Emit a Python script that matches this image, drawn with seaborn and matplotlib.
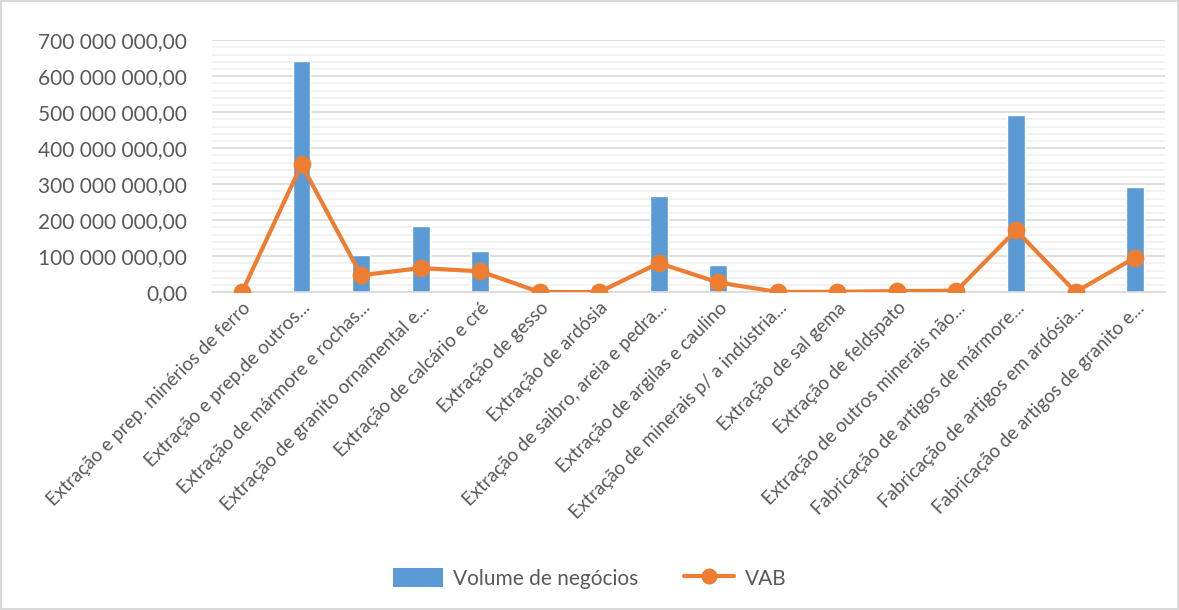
import matplotlib
matplotlib.use("Agg")
import matplotlib.pyplot as plt
import matplotlib.ticker as mticker
from matplotlib.patches import Patch
from matplotlib.lines import Line2D
import seaborn as sns
import pandas as pd

# categories (as truncated in the original chart)
categorias = [
    "Extração e prep. minérios de ferro",
    "Extração e prep.de outros...",
    "Extração de mármore e rochas...",
    "Extração de granito ornamental e...",
    "Extração de calcário e cré",
    "Extração de gesso",
    "Extração de ardósia",
    "Extração de saibro, areia e pedra...",
    "Extração de argilas e caulino",
    "Extração de minerais p/ a indústria...",
    "Extração de sal gema",
    "Extração de feldspato",
    "Extração de outros minerais não...",
    "Fabricação de artigos de mármore...",
    "Fabricação de artigos em ardósia...",
    "Fabricação de artigos de granito e...",
]
volume_negocios = [0, 642e6, 103e6, 183e6, 114e6, 0, 0, 266e6, 76e6, 0, 0, 0, 0, 492e6, 0, 293e6]
vab = [0, 355e6, 47e6, 67e6, 58e6, 0.3e6, 0.2e6, 81e6, 27e6, 0.5e6, 1e6, 3e6, 4e6, 172e6, 0.5e6, 96e6]

df = pd.DataFrame({"Setor": categorias, "Volume": volume_negocios, "VAB": vab})

sns.set_style("white")
plt.rcParams["font.family"] = ["Lato", "DejaVu Sans"]

azul = "#5B9BD5"
laranja = "#ED7D31"
cinza = "#595959"

fig = plt.figure(figsize=(11.79, 6.10), dpi=100)
fig.patch.set_edgecolor("#D9D9D9")
fig.patch.set_linewidth(1.5)
ax = fig.add_axes([0.18, 0.521, 0.808, 0.413])

sns.barplot(data=df, x="Setor", y="Volume", color=azul, width=0.30,
            saturation=1, ax=ax, zorder=2)
sns.pointplot(data=df, x="Setor", y="VAB", color=laranja, marker="o",
              markersize=10.5, linewidth=3, ax=ax, zorder=3)

ax.set_ylim(0, 700e6)
ax.set_xlim(-0.5, len(categorias) - 0.5)
ax.yaxis.set_major_locator(mticker.MultipleLocator(100e6))
ax.yaxis.set_minor_locator(mticker.MultipleLocator(20e6))
ax.yaxis.set_major_formatter(mticker.FuncFormatter(
    lambda v, p: f"{v:,.2f}".replace(",", " ").replace(".", ",")))
ax.grid(axis="y", which="major", color="#D9D9D9", linewidth=1.2, zorder=0)
ax.grid(axis="y", which="minor", color="#F0F0F0", linewidth=1.2, zorder=0)
ax.set_axisbelow(True)

for s in ["top", "right", "left"]:
    ax.spines[s].set_visible(False)
ax.spines["bottom"].set_color("#D9D9D9")
ax.spines["bottom"].set_linewidth(1.2)

ax.set_xlabel("")
ax.set_ylabel("")
ax.tick_params(axis="y", which="both", length=0, labelsize=15, labelcolor=cinza, pad=18)
ax.tick_params(axis="x", length=0, labelsize=13.5, labelcolor=cinza, pad=5)
plt.setp(ax.get_xticklabels(), rotation=45, ha="right", rotation_mode="anchor")

handles = [
    Patch(facecolor=azul, edgecolor="none", label="Volume de negócios"),
    Line2D([0], [0], color=laranja, lw=3, marker="o", markersize=10.5, label="VAB"),
]
fig.legend(handles=handles, loc="center", bbox_to_anchor=(0.5, 0.052), ncol=2,
           frameon=False, fontsize=15, labelcolor=cinza, handlelength=2.4,
           handleheight=1.0, handletextpad=0.5, columnspacing=2.2)

fig.savefig("out.png", dpi=100)
